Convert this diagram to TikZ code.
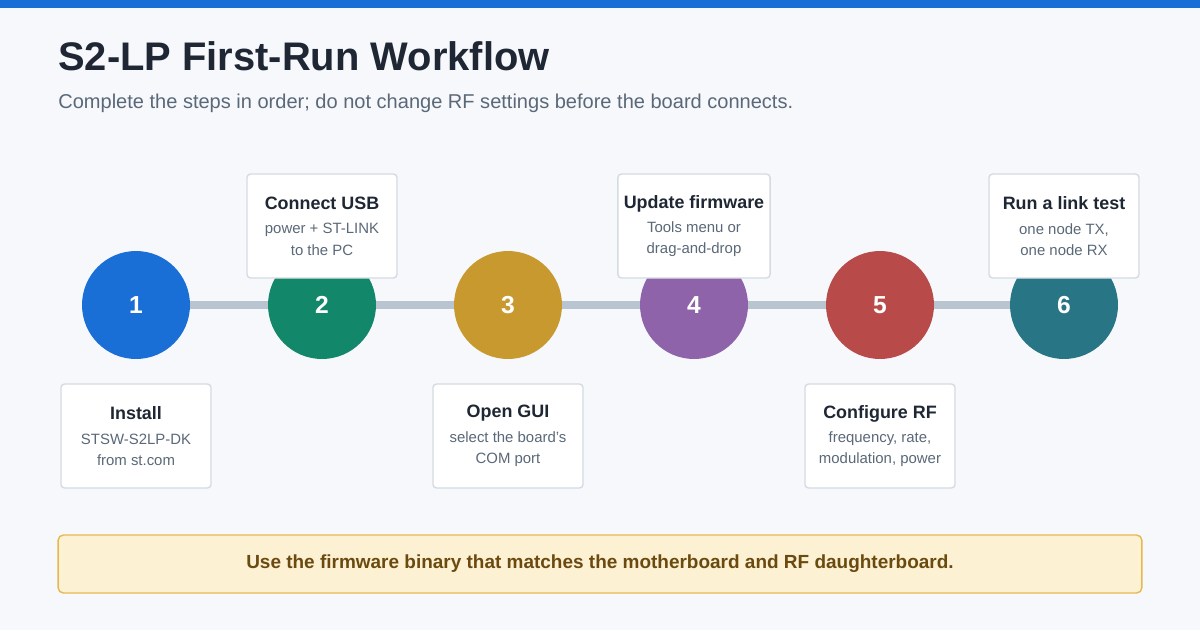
\documentclass[tikz,border=0pt]{standalone}
\usepackage{fontspec}
\setmainfont{Liberation Sans}
\usetikzlibrary{positioning}
\definecolor{bgc}{HTML}{F6F8FC}
\definecolor{barc}{HTML}{1A6FD6}
\definecolor{titlec}{HTML}{1E2733}
\definecolor{subc}{HTML}{5A6878}
\definecolor{linec}{HTML}{B8C4D0}
\definecolor{boxc}{HTML}{D5DBE3}
\definecolor{ca}{HTML}{1A6FD6}
\definecolor{cb}{HTML}{13876A}
\definecolor{cc}{HTML}{C8992E}
\definecolor{cd}{HTML}{8E63AA}
\definecolor{ce}{HTML}{B94A4A}
\definecolor{cf}{HTML}{277585}
\definecolor{notefill}{HTML}{FDF1D4}
\definecolor{noteline}{HTML}{E6B84F}
\definecolor{notetext}{HTML}{6B4A10}
\newcommand{\cardhead}{\bfseries\fontsize{10.2}{12}\selectfont}
\newcommand{\cardbody}{\mdseries\fontsize{8.5}{15}\selectfont\color{subc}}
\begin{document}
\begin{tikzpicture}[x=0.02cm, y=-0.02cm,
	stepdot/.style={circle, minimum size=2.16cm, inner sep=0pt, text=white, font=\bfseries\fontsize{14}{16}\selectfont},
	card/.style={draw=boxc, line width=0.8pt, fill=white, rounded corners=2pt, minimum width=3cm, minimum height=2.08cm, align=center, text=titlec}
	]
	\useasboundingbox (0,0) rectangle (1200,630);
	\fill[bgc] (0,0) rectangle (1200,630);
	\fill[barc] (0,0) rectangle (1200,8);
	\node[anchor=base west, inner sep=0pt, text=titlec, font=\bfseries\fontsize{22.7}{26}\selectfont] (title) at (58,70) {S2-LP First-Run Workflow};
	\node[anchor=base west, inner sep=0pt, text=subc, font=\fontsize{11.4}{13}\selectfont] (sub) at (58,108) {Complete the steps in order; do not change RF settings before the board connects.};
	% steps
	\draw[linec, line width=4.5pt] (136,305) -- (1064,305);
	\foreach \n/\x/\c in {1/136/ca, 2/322/cb, 3/508/cc, 4/694/cd, 5/880/ce, 6/1064/cf}
		\node[stepdot, fill=\c] (s\n) at (\x,305) {\n};
	% cards
	\node[card] (c1) at (136,436) {\cardhead Install\\[2pt]\cardbody STSW-S2LP-DK\\\cardbody from st.com};
	\node[card] (c2) at (322,226) {\cardhead Connect USB\\[2pt]\cardbody power + ST-LINK\\\cardbody to the PC};
	\node[card] (c3) at (508,436) {\cardhead Open GUI\\[2pt]\cardbody select the board's\\\cardbody COM port};
	\node[card] (c4) at (694,226) {\cardhead Update firmware\\[2pt]\cardbody Tools menu or\\\cardbody drag-and-drop};
	\node[card] (c5) at (880,436) {\cardhead Configure RF\\[2pt]\cardbody frequency, rate,\\\cardbody modulation, power};
	\node[card] (c6) at (1064,226) {\cardhead Run a link test\\[2pt]\cardbody one node TX,\\\cardbody one node RX};
	% note
	\node[draw=noteline, fill=notefill, line width=0.8pt, rounded corners=3pt, minimum width=21.68cm, minimum height=1.16cm, text=notetext, font=\bfseries\fontsize{10.8}{13}\selectfont] (note) at (600,564) {Use the firmware binary that matches the motherboard and RF daughterboard.};
\end{tikzpicture}
\end{document}
